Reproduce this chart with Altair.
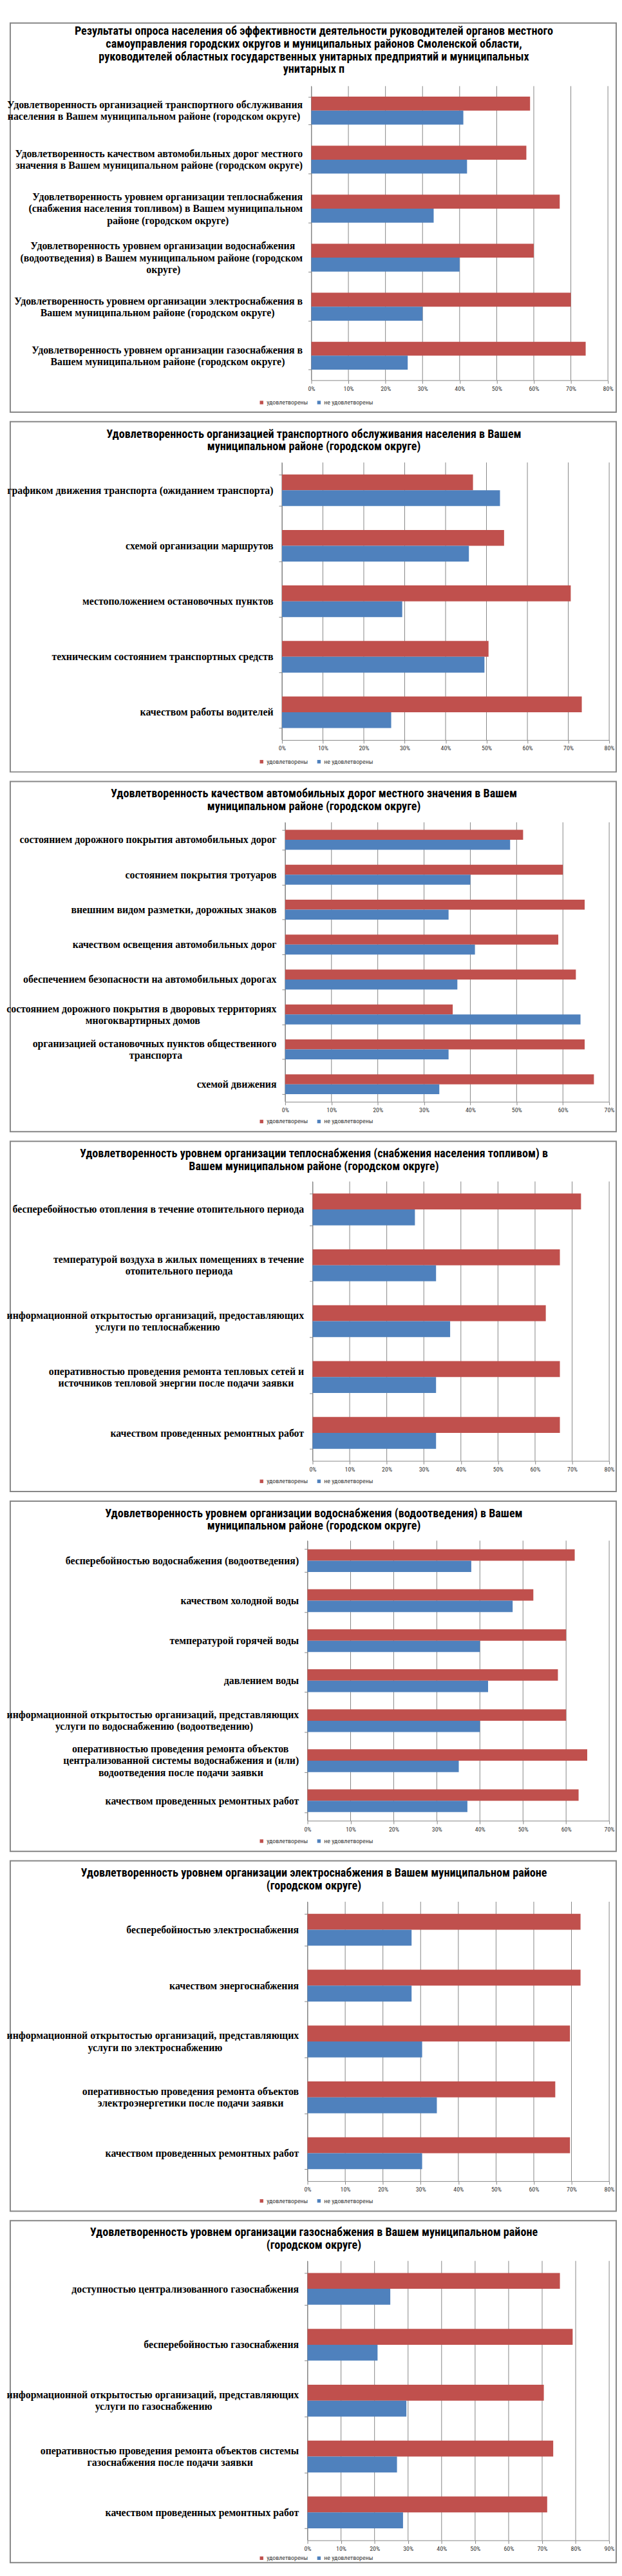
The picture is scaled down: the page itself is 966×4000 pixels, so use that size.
import altair as alt
import pandas as pd

SAT = "удовлетворены"
UNSAT = "не удовлетворены"
RED = "#C0504D"
BLUE = "#4F81BD"
GRID = "#868686"
SANS = "Liberation Sans Narrow, Arial Narrow, Roboto Condensed, Liberation Sans, sans-serif"
SERIF = "Liberation Serif, Times New Roman, serif"
LABEL_SIZE = 16
LINE_H = 18.4
NB = "\u00a0"
ZW = "\u200b"

# ---------------- data ----------------
p1_title = [
    "Результаты опроса населения об эффективности деятельности руководителей органов местного",
    "самоуправления городских округов и муниципальных районов Смоленской области,",
    "руководителей областных государственных унитарных предприятий и муниципальных",
    "унитарных п",
]
p1_cats = [
    "Удовлетворенность организацией транспортного обслуживания\nнаселения в Вашем муниципальном районе (городском округе)",
    "Удовлетворенность качеством автомобильных дорог местного\nзначения в Вашем муниципальном районе (городском округе)",
    "Удовлетворенность уровнем организации теплоснабжения\n(снабжения населения топливом) в Вашем муниципальном\nрайоне (городском округе)",
    "Удовлетворенность уровнем организации водоснабжения\n(водоотведения) в Вашем муниципальном районе (городском\nокруге)",
    "Удовлетворенность уровнем организации электроснабжения в\nВашем муниципальном районе (городском округе)",
    "Удовлетворенность уровнем организации газоснабжения в\nВашем муниципальном районе (городском округе)",
]
p1_sat = [59, 58, 67, 60, 70, 74]
p1_unsat = [41, 42, 33, 40, 30, 26]
p1_xmax = 80

p2_title = [
    "Удовлетворенность организацией транспортного обслуживания населения в Вашем",
    "муниципальном районе (городском округе)",
]
p2_cats = [
    "графиком движения транспорта (ожиданием транспорта)",
    "схемой организации маршрутов",
    "местоположением остановочных пунктов",
    "техническим состоянием транспортных средств",
    "качеством работы водителей",
]
p2_sat = [46.7, 54.3, 70.6, 50.5, 73.3]
p2_unsat = [53.3, 45.7, 29.4, 49.5, 26.7]
p2_xmax = 80

p3_title = [
    "Удовлетворенность качеством автомобильных дорог местного значения в Вашем",
    "муниципальном районе (городском округе)",
]
p3_cats = [
    "состоянием дорожного покрытия автомобильных дорог",
    "состоянием покрытия тротуаров",
    "внешним видом разметки, дорожных знаков",
    "качеством освещения автомобильных дорог",
    "обеспечением безопасности на автомобильных дорогах",
    "состоянием дорожного покрытия в дворовых территориях\nмногоквартирных домов",
    "организацией остановочных пунктов общественного\nтранспорта",
    "схемой движения",
]
p3_sat = [51.4, 60.0, 64.7, 59.0, 62.8, 36.2, 64.7, 66.7]
p3_unsat = [48.6, 40.0, 35.3, 41.0, 37.2, 63.8, 35.3, 33.3]
p3_xmax = 70

p4_title = [
    "Удовлетворенность уровнем организации теплоснабжения (снабжения населения топливом) в",
    "Вашем муниципальном районе (городском округе)",
]
p4_cats = [
    "бесперебойностью отопления в течение отопительного периода",
    "температурой воздуха в жилых помещениях в течение\nотопительного периода",
    "информационной открытостью организаций, предоставляющих\nуслуги по теплоснабжению",
    "оперативностью проведения ремонта тепловых сетей и\nисточников тепловой энергии после подачи заявки",
    "качеством проведенных ремонтных работ",
]
p4_sat = [72.4, 66.7, 62.9, 66.7, 66.7]
p4_unsat = [27.6, 33.3, 37.1, 33.3, 33.3]
p4_xmax = 80

p5_title = [
    "Удовлетворенность уровнем организации водоснабжения (водоотведения) в Вашем",
    "муниципальном районе (городском округе)",
]
p5_cats = [
    "бесперебойностью водоснабжения (водоотведения)",
    "качеством холодной воды",
    "температурой горячей воды",
    "давлением воды",
    "информационной открытостью организаций, представляющих\nуслуги по водоснабжению (водоотведению)",
    "оперативностью проведения ремонта объектов\nцентрализованной системы водоснабжения и (или)\nводоотведения после подачи заявки",
    "качеством проведенных ремонтных работ",
]
p5_sat = [62.0, 52.4, 60.0, 58.1, 60.0, 64.9, 62.9]
p5_unsat = [38.0, 47.6, 40.0, 41.9, 40.0, 35.1, 37.1]
p5_xmax = 70

p6_title = [
    "Удовлетворенность уровнем организации электроснабжения в Вашем муниципальном районе",
    "(городском округе)",
]
p6_cats = [
    "бесперебойностью электроснабжения",
    "качеством энергоснабжения",
    "информационной открытостью организаций, представляющих\nуслуги по электроснабжению",
    "оперативностью проведения ремонта объектов\nэлектроэнергетики после подачи заявки",
    "качеством проведенных ремонтных работ",
]
p6_sat = [72.4, 72.4, 69.6, 65.7, 69.6]
p6_unsat = [27.6, 27.6, 30.4, 34.3, 30.4]
p6_xmax = 80

p7_title = [
    "Удовлетворенность уровнем организации газоснабжения в Вашем муниципальном районе",
    "(городском округе)",
]
p7_cats = [
    "доступностью централизованного газоснабжения",
    "бесперебойностью газоснабжения",
    "информационной открытостью организаций, представляющих\nуслуги по газоснабжению",
    "оперативностью проведения ремонта объектов системы\nгазоснабжения после подачи заявки",
    "качеством проведенных ремонтных работ",
]
p7_sat = [75.3, 79.1, 70.5, 73.3, 71.5]
p7_unsat = [24.7, 20.9, 29.5, 26.7, 28.5]
p7_xmax = 90

# ---------------- helpers ----------------
_W = {" ": 0.25, "(": 0.333, ")": 0.333, ",": 0.25,
      "а": .5, "б": .5, "в": .5, "г": .44, "д": .52, "е": .44, "ж": .8, "з": .44,
      "и": .56, "й": .56, "к": .54, "л": .54, "м": .68, "н": .56, "о": .5, "п": .56,
      "р": .56, "с": .44, "т": .48, "у": .5, "ф": .72, "х": .5, "ц": .56, "ч": .54,
      "ш": .8, "щ": .8, "ъ": .6, "ы": .74, "ь": .5, "э": .44, "ю": .76, "я": .54}

BLANK = ZW + NB + ZW  # an empty line that is not trimmed away


def est_width(line):
    return sum(_W.get(ch, 0.72 if ch.isupper() else 0.55) for ch in line) * LABEL_SIZE


def build_label(label, k):
    """Lines centred inside the right-aligned block; half-height spacer lines
    keep the whole block vertically centred on its band."""
    lines = label.split("\n")
    if len(lines) > 1:
        widths = [est_width(l) for l in lines]
        wmax = max(widths)
        padded = []
        for l, w in zip(lines, widths):
            n = int(round((wmax - w) / 2 / (0.25 * LABEL_SIZE)))
            padded.append(l + (NB * n + ZW if n > 0 else ""))
        lines = padded
    out = [BLANK] * (k - (len(lines) - 1))
    for i, l in enumerate(lines):
        if i:
            out.append(BLANK)
        out.append(l)
    return "\n".join(out)


def panel(title, cats, sat, unsat, xmax, H, top, bottom, x0, x1, title_y, legend_y):
    k = max(len(c.split("\n")) for c in cats) - 1
    labels = [build_label(c, k) for c in cats]
    rows = []
    for lab, s, u in zip(labels, sat, unsat):
        rows.append({"cat": lab, "series": SAT, "value": s})
        rows.append({"cat": lab, "series": UNSAT, "value": u})
    df = pd.DataFrame(rows)
    ticks = list(range(0, xmax + 1, 10))
    xscale = alt.Scale(domain=[0, xmax], range=[x0, x1], nice=False, zero=True)
    xaxis = alt.Axis(values=ticks, labelExpr="datum.value + '%'", title=None, grid=False,
                     offset=-(H - bottom), domainColor=GRID, tickColor=GRID, tickSize=5,
                     labelFont=SANS, labelFontSize=10, labelColor="#333333", labelPadding=3,
                     labelFlush=False, domainWidth=1, tickWidth=1)
    grid = alt.Chart(pd.DataFrame({"value": ticks})).mark_rule(color=GRID, strokeWidth=1).encode(
        x=alt.X("value:Q", scale=xscale, axis=xaxis),
        y=alt.value(top), y2=alt.value(bottom))
    yaxis = alt.Axis(
        title=None, orient="left", offset=-x0, labelExpr="split(datum.label, '\\n')",
        labelFont=SERIF, labelFontWeight="bold", labelFontSize=LABEL_SIZE,
        labelLineHeight=LINE_H / 2, labelOffset=-k * LINE_H / 2,
        labelColor="black", labelLimit=2000, labelPadding=9,
        labelAlign="right", labelBaseline="middle",
        labelOverlap=False, tickSize=5, tickColor=GRID, domainColor=GRID, tickBand="extent",
        grid=False)
    bars = alt.Chart(df).mark_bar().encode(
        x=alt.X("value:Q", scale=xscale, axis=xaxis),
        y=alt.Y("cat:N", sort=labels,
                scale=alt.Scale(range=[top, bottom], paddingInner=0.43, paddingOuter=0.215),
                axis=yaxis),
        yOffset=alt.YOffset("series:N", sort=[SAT, UNSAT], scale=alt.Scale(domain=[SAT, UNSAT])),
        color=alt.Color("series:N", scale=alt.Scale(domain=[SAT, UNSAT], range=[RED, BLUE]),
                        legend=alt.Legend(title=None, orient="none", legendX=389, legendY=legend_y,
                                          direction="horizontal", symbolType="square",
                                          symbolSize=30, symbolStrokeWidth=0, labelFont=SANS,
                                          labelFontSize=10, labelColor="#333333",
                                          columnPadding=12, labelOffset=3, padding=0)),
    )
    text = alt.Chart(pd.DataFrame({"t": [0]})).mark_text(
        text=title, font=SANS, fontSize=18.3, fontWeight="bold", lineHeight=20,
        align="center", baseline="top", color="black"
    ).encode(x=alt.value(476), y=alt.value(title_y))
    return alt.layer(grid, bars, text).properties(width=950, height=H)


panels = [
    panel(p1_title, p1_cats, p1_sat, p1_unsat, p1_xmax, 610, 99, 560, 472, 937, 4.5, 590),
    panel(p2_title, p2_cats, p2_sat, p2_unsat, p2_xmax, 549, 64, 499, 426, 939, 11, 528),
    panel(p3_title, p3_cats, p3_sat, p3_unsat, p3_xmax, 549, 64, 502, 431, 939, 11, 528),
    panel(p4_title, p4_cats, p4_sat, p4_unsat, p4_xmax, 549, 63, 501, 474, 939, 11, 528),
    panel(p5_title, p5_cats, p5_sat, p5_unsat, p5_xmax, 549, 62, 501, 466, 939, 11, 528),
    panel(p6_title, p6_cats, p6_sat, p6_unsat, p6_xmax, 549, 64, 502, 466, 939, 11, 528),
    panel(p7_title, p7_cats, p7_sat, p7_unsat, p7_xmax, 536, 63, 501, 466, 939, 10, 524),
]

chart = alt.vconcat(*panels, spacing=15, bounds="flush").resolve_scale(
    x="independent", y="independent", color="independent", yOffset="independent"
).resolve_axis(x="independent", y="independent").resolve_legend(color="independent").properties(
    padding=0, background="white"
).configure_view(stroke="#878787", strokeWidth=2)

chart.save("out.html", embed_options={"renderer": "svg", "actions": False})
